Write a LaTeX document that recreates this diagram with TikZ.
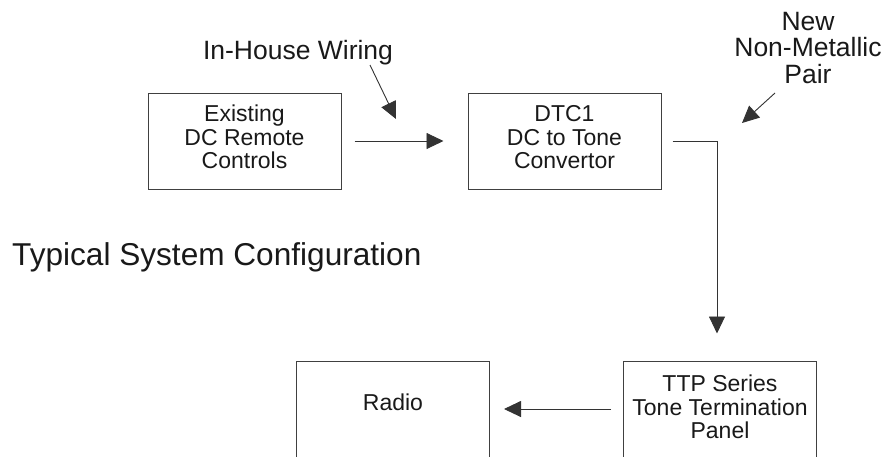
\documentclass[tikz,border=0pt]{standalone}
\usepackage{fontspec}
\setmainfont{Liberation Sans}
\usepackage{xcolor}
\usetikzlibrary{arrows.meta,positioning}

\begin{document}
\begin{tikzpicture}[x=1pt, y=-1pt,
    unit/.style={draw=black!75, line width=1pt, minimum width=193pt, minimum height=96pt,
                 align=center, inner sep=0pt, text=black!90,
                 font=\fontsize{23}{23.5}\selectfont},
    wire/.style={draw=black!80, line width=0.9pt},
    arr/.style={wire, -{Triangle[length=17pt, width=16pt]}},
    note/.style={align=center, inner sep=0pt, text=black!90,
                 font=\fontsize{26.5}{26.5}\selectfont}]
    \useasboundingbox (0,0) rectangle (883,456);

    % Equipment boxes
    \node[unit] (remote) at (244.5,141) {Existing\\DC Remote\\Controls\\[-15.5pt]};
    \node[unit] (dtc)    at (564.5,141) {DTC1\\DC to Tone\\Convertor\\[-15.5pt]};
    \node[unit] (ttp)    at (720,409)   {TTP Series\\Tone Termination\\Panel\\[-19.5pt]};
    \node[unit] (radio)  at (393,409)   {Radio\\[-9.5pt]};

    % Title
    \node[anchor=base west, inner sep=0pt, text=black!90,
          font=\fontsize{31.6}{32}\selectfont] (title) at (12,265) {Typical System Configuration};

    % Wiring labels
    \node[note, anchor=base] (wiring) at (298,59) {In-House Wiring};
    \node[note, anchor=north] (pair) at (808,12) {New\\Non-Metallic\\Pair};

    % Pointers to the wiring
    \coordinate (wirestart) at (370,65);
    \coordinate (wireend)   at (396,119);
    \draw[arr] (wirestart) -- (wireend);
    \coordinate (pairstart) at (775,93);
    \coordinate (pairend)   at (742,123);
    \draw[arr] (pairstart) -- (pairend);

    % Signal path
    \draw[arr] ([xshift=13pt]remote.east) -- ([xshift=-24pt]dtc.west);
    \draw[arr] ([xshift=11pt]dtc.east) -| ([xshift=-3pt, yshift=27pt]ttp.north);
    \draw[arr] ([xshift=-12pt]ttp.west) -- ([xshift=14pt]radio.east);
\end{tikzpicture}
\end{document}
